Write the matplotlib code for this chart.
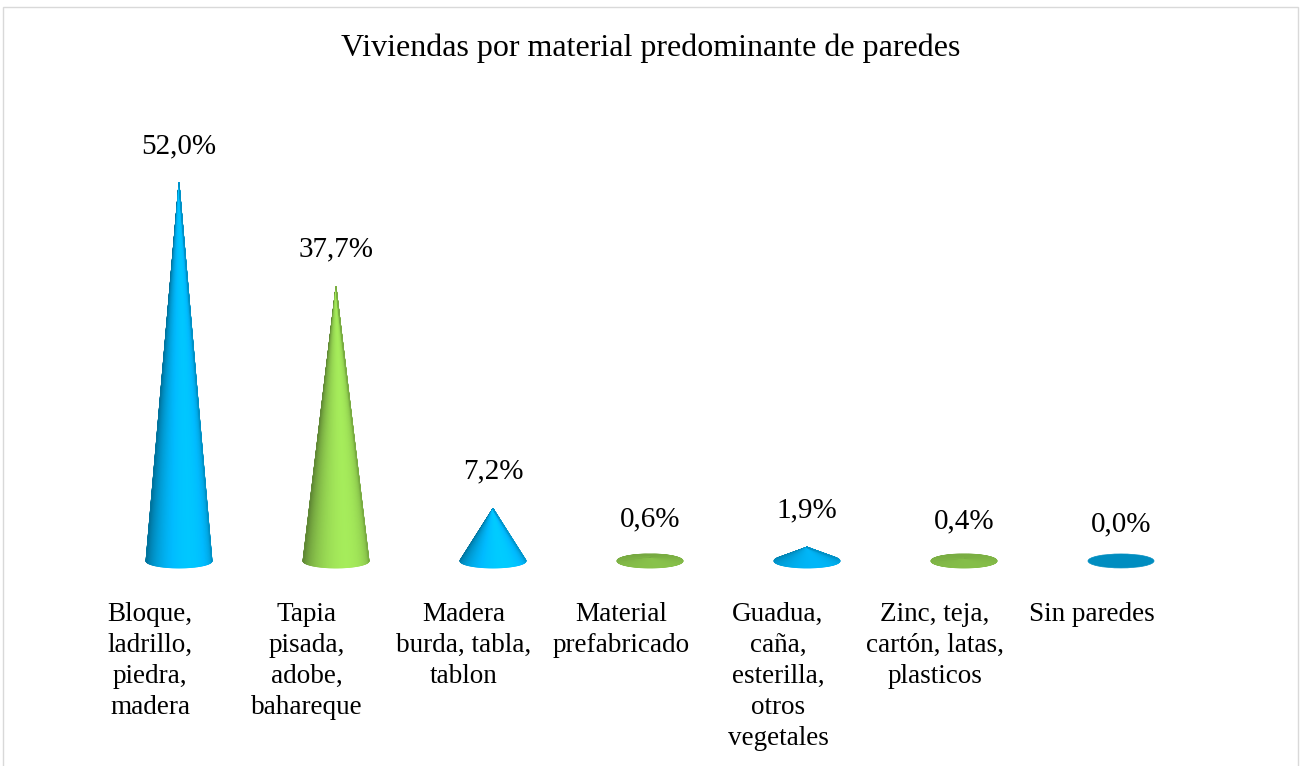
import numpy as np
import matplotlib
matplotlib.use("Agg")
import matplotlib.pyplot as plt
from matplotlib.collections import PolyCollection
from matplotlib.patches import Rectangle, Ellipse
import matplotlib.colors as mcolors

# ---- data ----
categories = [
    "Bloque,\nladrillo,\npiedra,\nmadera",
    "Tapia\npisada,\nadobe,\nbahareque",
    "Madera\nburda, tabla,\ntablon",
    "Material\nprefabricado",
    "Guadua,\ncaña,\nesterilla,\notros\nvegetales",
    "Zinc, teja,\ncartón, latas,\nplasticos",
    "Sin paredes",
]
values = [52.0, 37.7, 7.2, 0.6, 1.9, 0.4, 0.0]
value_labels = ["52,0%", "37,7%", "7,2%", "0,6%", "1,9%", "0,4%", "0,0%"]
colors = ["#00B0F0", "#92D050", "#00B0F0", "#92D050", "#00B0F0", "#92D050", "#00B0F0"]
title = "Viviendas por material predominante de paredes"

W, H = 1301, 766
fig = plt.figure(figsize=(W / 100, H / 100), dpi=100)
FONT = ["Liberation Serif", "DejaVu Serif"]

# axes geometry (pixels)
ax_left, ax_right = 100.5, 1199.5
ax_top, ax_bottom = 124.8, 575.5
ax = fig.add_axes([ax_left / W, (H - ax_bottom) / H,
                   (ax_right - ax_left) / W, (ax_bottom - ax_top) / H])
xlim = (-0.5, 6.5)
ylim = (-2, 60)
ax.set_xlim(*xlim)
ax.set_ylim(*ylim)
ax.axis("off")

px_x = (ax_right - ax_left) / (xlim[1] - xlim[0])   # px per category
px_y = (ax_bottom - ax_top) / (ylim[1] - ylim[0])   # px per percent

R_PX = 33.0   # base radius (px)
B_PX = 7.0    # base ellipse half-height (px)
elev = np.arcsin(B_PX / R_PX)
L = np.array([0.35, 0.5, 1.0])
L = L / np.linalg.norm(L)


def shade(base, psi, Hp):
    n = np.array([Hp * np.sin(psi), R_PX, Hp * np.cos(psi)])
    n = n / np.linalg.norm(n)
    I = max(0.0, float(n @ L))
    f = 0.66 + 0.5 * I
    rgb = np.clip(np.array(mcolors.to_rgb(base)) * f, 0, 1)
    return rgb


def draw_cone(i, val, base):
    h = val * px_y
    Hp = h / np.cos(elev) if h > 0 else 0.0
    if h < 0.5:
        rgb = np.clip(np.array(mcolors.to_rgb(base)) * 0.8, 0, 1)
        e = Ellipse((i, 0), 2 * R_PX / px_x, 2 * B_PX / px_y, angle=0,
                    facecolor=rgb, edgecolor=rgb, lw=0.5)
        ax.add_patch(e)
        return
    if h > B_PX:
        phi1 = np.arcsin(B_PX / h)
        phis = np.linspace(-np.pi - phi1, phi1, 121)
    else:
        phis = np.linspace(-np.pi, np.pi, 181)
    xs = R_PX * np.cos(phis)
    ys = B_PX * np.sin(phis)
    polys, cols = [], []
    for k in range(len(phis) - 1):
        pm = 0.5 * (phis[k] + phis[k + 1])
        psi = np.arctan2(np.cos(pm), -np.sin(pm))
        tri = [(i, val),
               (i + xs[k] / px_x, ys[k] / px_y),
               (i + xs[k + 1] / px_x, ys[k + 1] / px_y)]
        polys.append(tri)
        cols.append(shade(base, psi, Hp))
    pc = PolyCollection(polys, facecolors=cols, edgecolors=cols, linewidths=0.6)
    ax.add_collection(pc)


for i, (v, c) in enumerate(zip(values, colors)):
    draw_cone(i, v, c)

# value labels
for i, (v, lab) in enumerate(zip(values, value_labels)):
    ax.text(i, v + 5.1, lab, ha="center", va="center", fontsize=21,
            family=FONT, color="black", clip_on=False)

# category labels (shifted slightly left of the cones, as in the source)
for i, cat in enumerate(categories):
    ax.text(i - 0.185, -5.7, cat, ha="center", va="top", fontsize=19.5,
            family=FONT, color="black", linespacing=1.31, clip_on=False)

# title
fig.text(0.5, 1 - 48 / H, title, ha="center", va="center", fontsize=23,
         family=FONT, color="black")

# chart border
fig.patches.append(Rectangle((2.5 / W, -0.05), (1298 - 2.5) / W, 1.05 - 6.5 / H,
                             transform=fig.transFigure, fill=False,
                             edgecolor="#d9d9d9", lw=1.0))

fig.savefig("out.png", dpi=100)
